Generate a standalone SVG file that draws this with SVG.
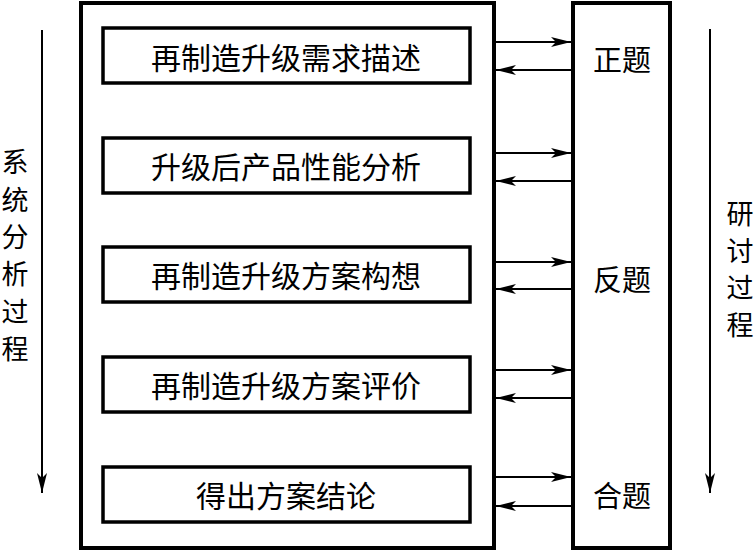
<svg xmlns="http://www.w3.org/2000/svg" width="754" height="551" viewBox="0 0 754 551">
<style>
.frame{fill:none;stroke:#000;stroke-width:4}
.box{fill:#fff;stroke:#000;stroke-width:3.5}
.ln{stroke:#000;stroke-width:2;fill:none}
.t{font-family:"Noto Sans CJK SC","Noto Sans CJK JP",sans-serif;font-size:30px;fill:#000;text-anchor:middle;dominant-baseline:central}
.s{font-family:"Noto Sans CJK SC","Noto Sans CJK JP",sans-serif;font-size:29px;fill:#000;text-anchor:middle;dominant-baseline:central}
.v{font-family:"Noto Sans CJK SC","Noto Sans CJK JP",sans-serif;font-size:27px;fill:#000;text-anchor:middle;dominant-baseline:central}
</style>
<defs>
<marker id="ah" viewBox="0 0 20 10" refX="20" refY="5" markerWidth="20" markerHeight="10" markerUnits="userSpaceOnUse" orient="auto">
<path d="M0,0 L20,5 L0,10 L5,5 Z" fill="#000"/>
</marker>
</defs>
<rect class="frame" x="81" y="3" width="413" height="545"/>
<rect class="frame" x="573" y="3" width="97" height="545"/>
<g id="n1"><rect class="box" x="103" y="28" width="367" height="55"/><text class="t" x="286" y="56">再制造升级需求描述</text></g>
<g id="n2"><rect class="box" x="103" y="138" width="367" height="55"/><text class="t" x="286" y="165">升级后产品性能分析</text></g>
<g id="n3"><rect class="box" x="103" y="247" width="367" height="55"/><text class="t" x="286" y="274">再制造升级方案构想</text></g>
<g id="n4"><rect class="box" x="103" y="357" width="367" height="55"/><text class="t" x="286" y="384">再制造升级方案评价</text></g>
<g id="n5"><rect class="box" x="103" y="467" width="367" height="55"/><text class="t" x="286" y="494">得出方案结论</text></g>
<g id="thesis"><text class="s" x="622" y="58">正题</text></g>
<g id="antithesis"><text class="s" x="622" y="278">反题</text></g>
<g id="synthesis"><text class="s" x="622" y="494">合题</text></g>
<g id="leftlabel">
<text class="v" x="15" y="160">系</text>
<text class="v" x="15" y="198">统</text>
<text class="v" x="15" y="235">分</text>
<text class="v" x="15" y="272">析</text>
<text class="v" x="15" y="310">过</text>
<text class="v" x="15" y="347">程</text>
</g>
<g id="rightlabel">
<text class="v" x="740" y="212">研</text>
<text class="v" x="740" y="249">讨</text>
<text class="v" x="740" y="286">过</text>
<text class="v" x="740" y="323">程</text>
</g>
<g id="connectors">
<line class="ln" x1="42" y1="30" x2="42" y2="493" marker-end="url(#ah)"/>
<line class="ln" x1="710" y1="29" x2="710" y2="493" marker-end="url(#ah)"/>
<line class="ln" x1="496" y1="42" x2="571" y2="42" marker-end="url(#ah)"/>
<line class="ln" x1="571" y1="70" x2="496" y2="70" marker-end="url(#ah)"/>
<line class="ln" x1="496" y1="153" x2="571" y2="153" marker-end="url(#ah)"/>
<line class="ln" x1="571" y1="181" x2="496" y2="181" marker-end="url(#ah)"/>
<line class="ln" x1="496" y1="262" x2="571" y2="262" marker-end="url(#ah)"/>
<line class="ln" x1="571" y1="289" x2="496" y2="289" marker-end="url(#ah)"/>
<line class="ln" x1="496" y1="370" x2="571" y2="370" marker-end="url(#ah)"/>
<line class="ln" x1="571" y1="398" x2="496" y2="398" marker-end="url(#ah)"/>
<line class="ln" x1="496" y1="477" x2="571" y2="477" marker-end="url(#ah)"/>
<line class="ln" x1="571" y1="506" x2="496" y2="506" marker-end="url(#ah)"/>
</g>
</svg>
